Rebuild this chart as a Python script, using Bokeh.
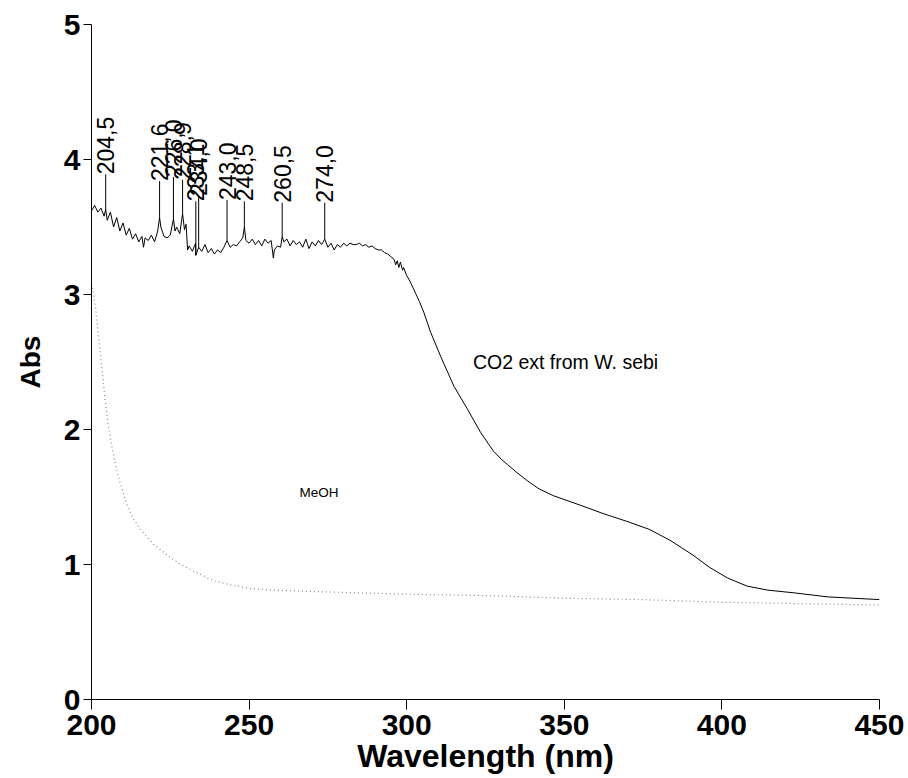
import math
import numpy as np
from bokeh.plotting import figure
from bokeh.models import Range1d, FixedTicker, ColumnDataSource
from bokeh.core.properties import value
from bokeh.embed import file_html
from bokeh.resources import INLINE

# ---------------- data ----------------
co2_x = [200, 201, 202, 203, 204, 204.5, 205, 206, 207, 208, 209, 210, 211, 212, 213, 214,
         215, 216, 216.5, 217, 218, 219, 220, 221, 221.6, 222, 223, 224, 225, 226, 226.5,
         227, 228, 228.9, 229.5, 230, 230.5, 231, 232, 233, 233.1, 234, 235, 236, 237, 238,
         239, 240, 241, 242, 243, 244, 245, 246, 247, 248, 248.5, 249, 250, 251, 252, 253,
         254, 255, 256, 257, 257.7, 258, 259, 260, 260.5, 261, 262, 263, 264, 265, 266, 267,
         268, 269, 270, 271, 272, 273, 274, 275, 276, 277, 278, 279, 280, 281, 282, 283, 284,
         285, 286, 287, 288, 289, 290, 291, 292, 293, 294, 295, 296, 296.5, 297, 297.5, 298,
         298.7, 299, 300, 301, 302, 303, 304, 305.4, 307.6, 310.8, 315, 319.3, 323.4, 327.5,
         330, 332, 335, 338.3, 342, 346.5, 355, 362, 369.8, 377, 383.5, 390.8, 396, 401.8, 408,
         414.6, 422.9, 433.6, 450]
co2_y = [3.62, 3.66, 3.61, 3.64, 3.58, 3.63, 3.55, 3.61, 3.50, 3.57, 3.47, 3.53, 3.44, 3.49, 3.41, 3.45,
         3.39, 3.43, 3.35, 3.42, 3.40, 3.44, 3.39, 3.47, 3.57, 3.50, 3.43, 3.42, 3.44, 3.56, 3.47,
         3.50, 3.45, 3.60, 3.48, 3.52, 3.33, 3.36, 3.32, 3.38, 3.29, 3.35, 3.32, 3.37, 3.31, 3.34,
         3.30, 3.33, 3.31, 3.35, 3.40, 3.35, 3.37, 3.36, 3.39, 3.42, 3.50, 3.40, 3.38, 3.41, 3.37, 3.40,
         3.36, 3.41, 3.38, 3.40, 3.27, 3.33, 3.36, 3.35, 3.43, 3.39, 3.41, 3.36, 3.40, 3.37, 3.39, 3.35,
         3.41, 3.34, 3.39, 3.36, 3.40, 3.37, 3.41, 3.35, 3.38, 3.33, 3.37, 3.35, 3.38, 3.36, 3.38, 3.37, 3.37,
         3.38, 3.36, 3.37, 3.35, 3.36, 3.34, 3.33, 3.33, 3.31, 3.30, 3.28, 3.26, 3.22, 3.25, 3.20, 3.24,
         3.18, 3.20, 3.14, 3.10, 3.05, 3.00, 2.95, 2.87, 2.72, 2.54, 2.32, 2.15, 1.98, 1.84,
         1.78, 1.74, 1.68, 1.62, 1.56, 1.51, 1.44, 1.38, 1.32, 1.26, 1.18, 1.07, 0.98, 0.90, 0.84,
         0.81, 0.79, 0.76, 0.74]

meoh_x = [200.3, 201.3, 202.3, 203.4, 204.2, 205.2, 206.5, 207.5, 209, 211.3, 213, 215.5, 219.7,
          224, 228.2, 233.5, 238.7, 244, 251, 258, 270, 285, 300, 325, 350, 375, 400, 425, 450]
meoh_y = [3.05, 2.90, 2.67, 2.43, 2.24, 2.05, 1.87, 1.75, 1.61, 1.44, 1.35, 1.26, 1.15,
          1.07, 1.00, 0.94, 0.88, 0.85, 0.82, 0.81, 0.80, 0.79, 0.78, 0.77, 0.75, 0.74, 0.72, 0.71, 0.70]

peak_x = [204.5, 221.6, 226.0, 228.9, 233.1, 234.0, 243.0, 248.5, 260.5, 274.0]
peak_labels = ["204,5", "221,6", "226,0", "228,9", "233,1", "234,0", "243,0", "248,5", "260,5", "274,0"]
peak_label_y = [3.89, 3.84, 3.87, 3.85, 3.69, 3.73, 3.70, 3.69, 3.68, 3.68]

x_ticks = [200, 250, 300, 350, 400, 450]
y_ticks = [0, 1, 2, 3, 4, 5]

series_names = ["CO2 ext from W. sebi", "MeOH"]
series_label_pos = [(321, 2.50), (266, 1.53)]

# ---------------- figure ----------------
p = figure(frame_width=788, frame_height=675,
           x_range=Range1d(200, 450), y_range=Range1d(0, 5),
           output_backend="svg", toolbar_location=None,
           min_border_left=91, min_border_top=24, min_border_right=25, min_border_bottom=78)
p.outline_line_color = None
p.grid.visible = False
p.background_fill_color = "white"
p.border_fill_color = "white"

FONT = "Liberation Sans"
for ax, ticks, tout in ((p.xaxis, x_ticks, 10), (p.yaxis, y_ticks, 8)):
    ax.ticker = FixedTicker(ticks=ticks)
    ax.major_tick_out = tout
    ax.major_tick_in = 0
    ax.minor_tick_out = 0
    ax.minor_tick_in = 0
    ax.axis_line_color = "black"
    ax.major_tick_line_color = "black"
    ax.major_label_text_font = FONT
    ax.major_label_text_font_style = "bold"
    ax.major_label_text_font_size = "30px"
    ax.major_label_text_color = "black"
    ax.axis_label_text_font = FONT
    ax.axis_label_text_font_style = "bold"
    ax.axis_label_text_color = "black"

p.xaxis.axis_label = "Wavelength (nm)"
p.yaxis.axis_label = "Abs"
p.xaxis.axis_label_text_font_size = "32px"
p.yaxis.axis_label_text_font_size = "28px"
p.xaxis.major_label_standoff = 5
p.xaxis.axis_label_standoff = 0
p.yaxis.major_label_standoff = 3
p.yaxis.axis_label_standoff = 15

# curves
p.line(meoh_x, meoh_y, line_color="#8a8a8a", line_width=1.2, line_dash="1 3")
p.line(co2_x, co2_y, line_color="black", line_width=1)

# peak markers
peak_y = list(np.interp(peak_x, co2_x, co2_y))
src = ColumnDataSource(dict(x=peak_x, y0=peak_y, y1=peak_label_y, t=peak_labels))
p.segment(x0="x", y0="y0", x1="x", y1="y1", source=src, line_color="black", line_width=1)
p.text(x="x", y="y1", text="t", source=src, angle=math.pi / 2,
       text_align="left", text_baseline="alphabetic",
       text_font=value(FONT), text_font_size="23px", text_color="black")

# series labels
p.text(x=[series_label_pos[0][0]], y=[series_label_pos[0][1]], text=[series_names[0]],
       text_align="left", text_baseline="middle", text_font=value(FONT),
       text_font_size="19.5px", text_color="black")
p.text(x=[series_label_pos[1][0]], y=[series_label_pos[1][1]], text=[series_names[1]],
       text_align="left", text_baseline="middle", text_font=value(FONT),
       text_font_size="13.5px", text_color="black")

open("out.html", "w").write(file_html(p, INLINE))
